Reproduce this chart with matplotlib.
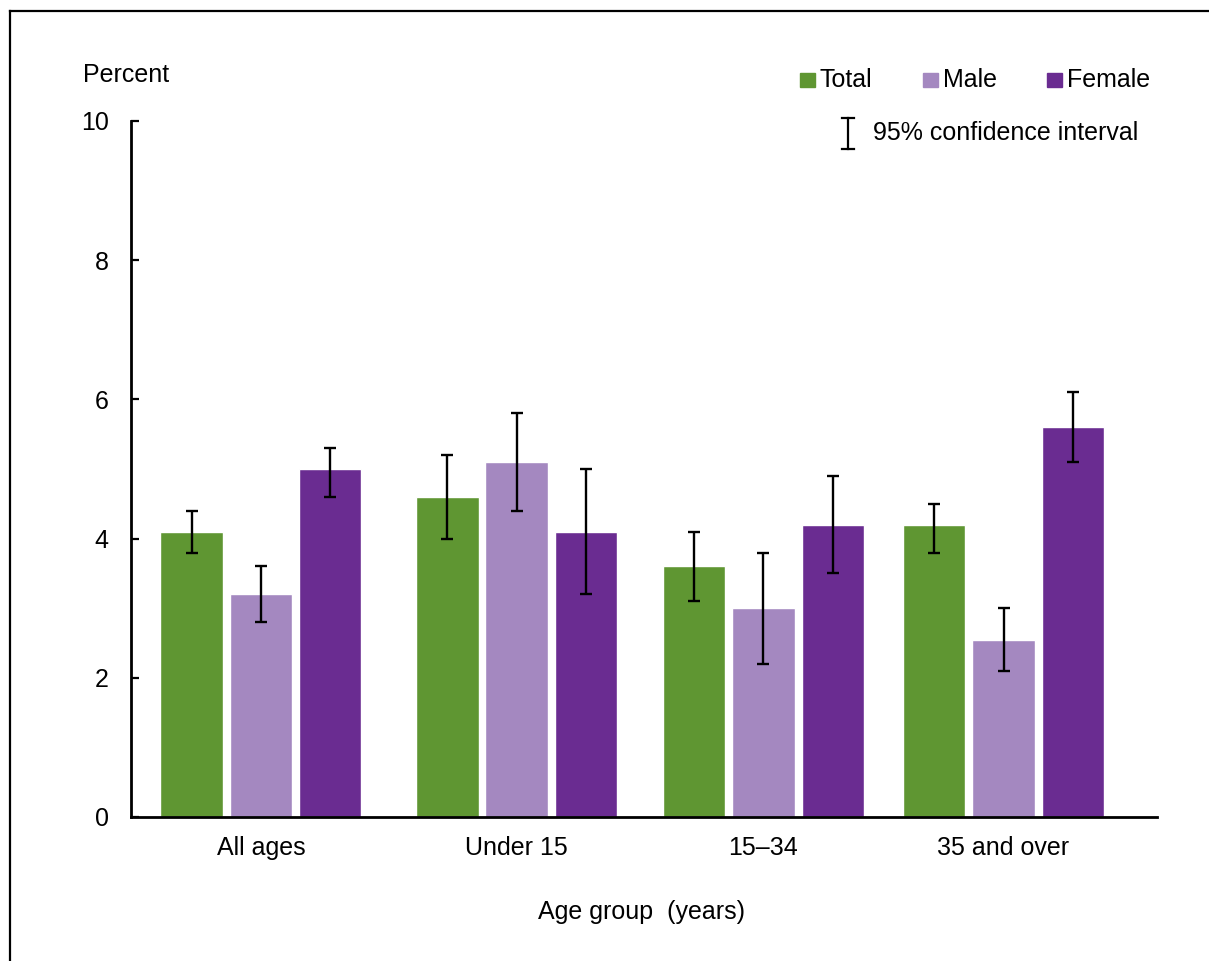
import numpy as np
import matplotlib
matplotlib.use("Agg")
import matplotlib.pyplot as plt
from matplotlib.patches import Rectangle
from matplotlib.lines import Line2D

plt.rcParams['font.family'] = ['Liberation Sans', 'DejaVu Sans']

# dados
grupos = ["All ages", "Under 15", "15\u201334", "35 and over"]
series = ["Total", "Male", "Female"]
total = [4.1, 4.6, 3.6, 4.2]
male = [3.2, 5.1, 3.0, 2.55]
female = [5.0, 4.1, 4.2, 5.6]
total_ic = [(3.8, 4.4), (4.0, 5.2), (3.1, 4.1), (3.8, 4.5)]
male_ic = [(2.8, 3.6), (4.4, 5.8), (2.2, 3.8), (2.1, 3.0)]
female_ic = [(4.6, 5.3), (3.2, 5.0), (3.5, 4.9), (5.1, 6.1)]

cores = ["#5f9632", "#a488c0", "#6a2c91"]

W, H = 1209, 961
fs = 18
fig = plt.figure(figsize=(W / 100, H / 100), dpi=100)

# eixo posicionado em pixels
esq, dir_, base, topo = 131, 1157, 817, 121
ax = fig.add_axes([esq / W, 1 - base / H, (dir_ - esq) / W, (base - topo) / H])

# posicao dos grupos (o original nao e perfeitamente uniforme)
x = np.array([0, 1.033, 2.03, 3.0])
largura = 0.252
passo = 0.28
valores = [total, male, female]
ics = [total_ic, male_ic, female_ic]
for i, (v, ic, c) in enumerate(zip(valores, ics, cores)):
    pos = x + (i - 1) * passo
    v = np.array(v)
    lo = v - np.array([a for a, b in ic])
    hi = np.array([b for a, b in ic]) - v
    ax.bar(pos, v, width=largura, color=c, edgecolor="white", linewidth=1, zorder=2)
    ax.errorbar(pos, v, yerr=[lo, hi], fmt="none", ecolor="black",
                elinewidth=1.7, capsize=4.5, capthick=1.7, zorder=3)

ax.set_ylim(0, 10)
ax.set_xlim(-0.525, 3.62)
ax.set_yticks([0, 2, 4, 6, 8, 10])
ax.set_xticks(x)
ax.set_xticklabels(grupos)
ax.tick_params(axis="y", direction="in", length=6, width=1.6, pad=16, labelsize=fs)
ax.tick_params(axis="x", length=0, pad=14, labelsize=fs)
for s in ["top", "right"]:
    ax.spines[s].set_visible(False)
for s in ["left", "bottom"]:
    ax.spines[s].set_linewidth(2)

fig.text(83 / W, 1 - 75 / H, "Percent", fontsize=fs, va="center", ha="left")
fig.text(641 / W, 1 - 912 / H, "Age group  (years)", fontsize=fs, va="center", ha="center")

# legenda manual
for (xq, nome, c) in zip([800, 923, 1047], series, cores):
    fig.patches.append(Rectangle((xq / W, 1 - 87 / H), 15 / W, 14 / H,
                                 transform=fig.transFigure, color=c))
    fig.text((xq + 20) / W, 1 - 80 / H, nome, fontsize=fs, va="center", ha="left")
xi = 848 / W
fig.add_artist(Line2D([xi, xi], [1 - 118 / H, 1 - 149 / H], color="black", lw=1.6))
for yy in [118, 149]:
    fig.add_artist(Line2D([(xi * W - 6) / W, (xi * W + 6) / W], [1 - yy / H, 1 - yy / H],
                          color="black", lw=1.6))
fig.text(873 / W, 1 - 133 / H, "95% confidence interval", fontsize=fs, va="center", ha="left")

# moldura
fig.add_artist(Line2D([10 / W, 10 / W], [1 - 11 / H, 0], color="black", lw=1.6))
fig.add_artist(Line2D([10 / W, 1], [1 - 11 / H, 1 - 11 / H], color="black", lw=1.6))

fig.savefig("out.png", dpi=100)
